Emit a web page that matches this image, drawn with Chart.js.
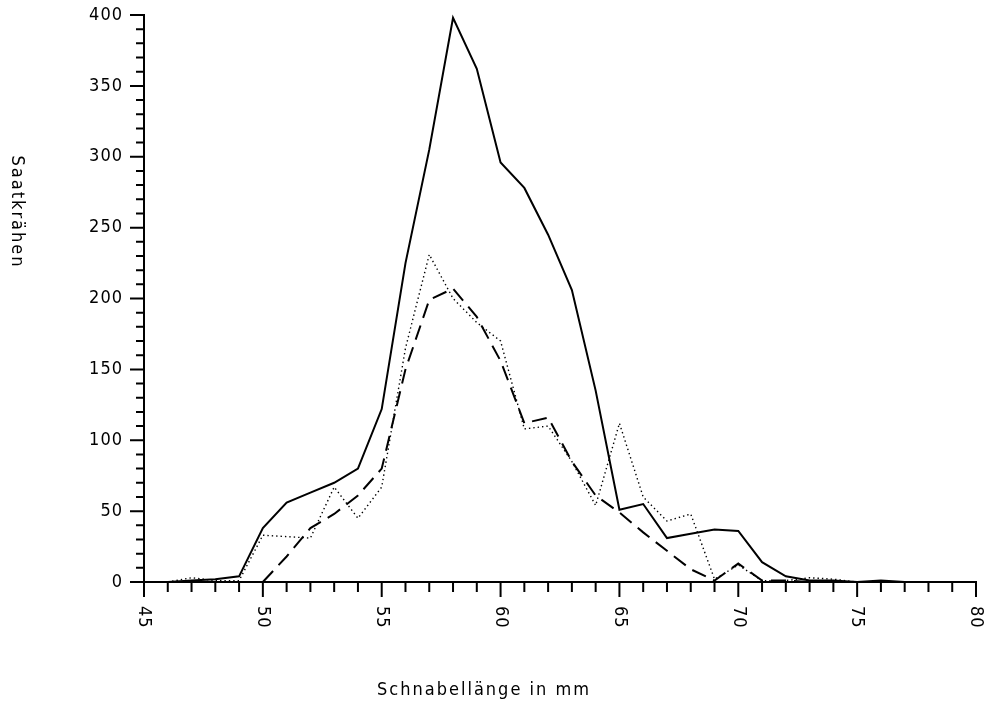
<!DOCTYPE html>
<html lang="de">
<head>
<meta charset="UTF-8">
<title>Saatkrähen – Schnabellänge</title>
<script src="https://cdn.jsdelivr.net/npm/chart.js"></script>
<style>
    body { margin: 0; background: #fff; }
    #wrap { width: 993px; height: 702px; }
</style>
</head>
<body>
<div id="wrap"><canvas id="beakChart" width="993" height="702"></canvas></div>
<script>
// beak length in mm (x) and number of rooks per class
var lengths      = [46, 47, 48, 49, 50, 51, 52, 53, 54, 55, 56, 57, 58, 59, 60, 61, 62, 63, 64, 65, 66, 67, 68, 69, 70, 71, 72, 73, 74, 75, 76, 77, 78, 79];
var allBirds     = [0, 1, 2, 4, 38, 56, 63, 70, 80, 122, 225, 305, 398, 362, 296, 278, 245, 206, 135, 51, 55, 31, 34, 37, 36, 14, 4, 1, 1, 0, 1, 0, 0, 0];
var dottedGroup  = [0, 3, 1, 1, 33, 32, 31, 67, 45, 67, 165, 231, 200, 183, 170, 108, 110, 85, 54, 112, 60, 43, 48, 2, 12, 1, 1, 3, 2, 0, 0, 0, null, null];
var dashedGroup  = [null, null, null, null, 0, 18, 38, 48, 61, 80, 150, 199, 207, 187, 156, 112, 116, 85, 61, 49, 35, 22, 9, 1, 13, 1, 1, 0, null, null, null, null, null, null];

var xTicks  = [45, 46, 47, 48, 49, 50, 51, 52, 53, 54, 55, 56, 57, 58, 59, 60, 61, 62, 63, 64, 65, 66, 67, 68, 69, 70, 71, 72, 73, 74, 75, 76, 77, 78, 79, 80];
var xLabels = [45, 50, 55, 60, 65, 70, 75, 80];
var yTicks  = [0, 10, 20, 30, 40, 50, 60, 70, 80, 90, 100, 110, 120, 130, 140, 150, 160, 170, 180, 190, 200, 210, 220, 230, 240, 250, 260, 270, 280, 290, 300, 310, 320, 330, 340, 350, 360, 370, 380, 390, 400];
var yLabels = [0, 50, 100, 150, 200, 250, 300, 350, 400];

var xTitle = 'Schnabellänge in mm';
var yTitle = 'Saatkrähen';

var plotFont = '18px "DejaVu Sans Condensed", "DejaVu Sans", sans-serif';

function toPoints(values) {
    return lengths.map(function (x, i) {
        return { x: x, y: values[i] };
    });
}

// axes are drawn by hand so ticks can face outward and labels read top-to-bottom
var plotterAxes = {
    id: 'plotterAxes',
    afterDatasetsDraw: function (chart) {
        var ctx = chart.ctx;
        var xs = chart.scales.x;
        var ys = chart.scales.y;
        var left = xs.getPixelForValue(45);
        var right = xs.getPixelForValue(80);
        var bottom = ys.getPixelForValue(0);
        var top = ys.getPixelForValue(400);

        ctx.save();
        ctx.strokeStyle = '#000';
        ctx.lineWidth = 2;
        ctx.lineCap = 'square';
        ctx.beginPath();
        ctx.moveTo(left, top);
        ctx.lineTo(left, bottom);
        ctx.lineTo(right, bottom);
        xTicks.forEach(function (v) {
            var px = xs.getPixelForValue(v);
            var len = v % 5 === 0 ? 14 : 9;
            ctx.moveTo(px, bottom);
            ctx.lineTo(px, bottom + len);
        });
        yTicks.forEach(function (v) {
            var py = ys.getPixelForValue(v);
            var len = v % 50 === 0 ? 13 : 7;
            ctx.moveTo(left, py);
            ctx.lineTo(left - len, py);
        });
        ctx.stroke();

        ctx.fillStyle = '#000';
        ctx.font = plotFont;
        ctx.letterSpacing = '1px';

        // y labels
        ctx.textAlign = 'right';
        ctx.textBaseline = 'middle';
        yLabels.forEach(function (v) {
            ctx.fillText(String(v), left - 21, ys.getPixelForValue(v));
        });

        // x labels, turned clockwise
        xLabels.forEach(function (v) {
            ctx.save();
            ctx.translate(xs.getPixelForValue(v), bottom + 24);
            ctx.rotate(Math.PI / 2);
            ctx.textAlign = 'left';
            ctx.textBaseline = 'middle';
            ctx.fillText(String(v), 0, 0);
            ctx.restore();
        });

        // titles
        ctx.letterSpacing = '2px';
        ctx.textAlign = 'center';
        ctx.textBaseline = 'middle';
        ctx.fillText(xTitle, 484, 690);

        ctx.save();
        ctx.translate(17, 212);
        ctx.rotate(Math.PI / 2);
        ctx.fillText(yTitle, 0, 0);
        ctx.restore();

        ctx.restore();
    }
};

var ctxBeak = document.getElementById('beakChart').getContext('2d');
var beakChart = new Chart(ctxBeak, {
    type: 'line',
    data: {
        datasets: [{
            data: toPoints(allBirds),
            borderColor: '#000',
            borderWidth: 2,
            pointRadius: 0,
            tension: 0,
            fill: false,
            clip: false
        }, {
            data: toPoints(dottedGroup),
            borderColor: '#000',
            borderWidth: 1.4,
            borderDash: [1.4, 3],
            pointRadius: 0,
            tension: 0,
            fill: false,
            clip: false
        }, {
            data: toPoints(dashedGroup),
            borderColor: '#000',
            borderWidth: 2,
            borderDash: [15, 8],
            pointRadius: 0,
            tension: 0,
            fill: false,
            spanGaps: false,
            clip: false
        }]
    },
    options: {
        responsive: false,
        animation: false,
        layout: {
            padding: { left: 144, right: 17, top: 15, bottom: 120 }
        },
        plugins: {
            legend: { display: false },
            tooltip: { enabled: false }
        },
        scales: {
            x: { type: 'linear', min: 45, max: 80, display: false },
            y: { type: 'linear', min: 0, max: 400, display: false }
        }
    },
    plugins: [plotterAxes]
});
</script>
</body>
</html>
